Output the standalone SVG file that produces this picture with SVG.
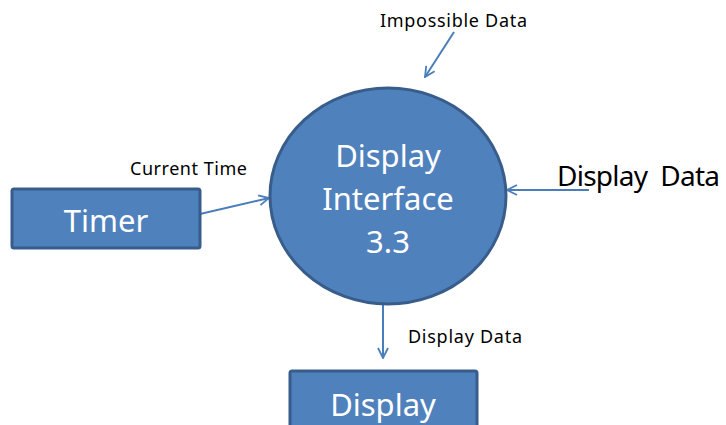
<svg xmlns="http://www.w3.org/2000/svg" width="726" height="425" viewBox="0 0 726 425">
<style>
.shape{fill:#4F81BD;stroke:#385D8A;stroke-width:3}
.wt{fill:#FFFFFF;font-family:"Noto Sans","Noto Sans CJK KR",sans-serif;font-size:31px;text-anchor:middle}
.lbl{fill:#000000;font-family:"Noto Sans","Noto Sans CJK KR",sans-serif;font-size:18px}
.conn{stroke:#4A7EBB;stroke-width:2;fill:none;marker-end:url(#arr)}
</style>
<defs>
<marker id="arr" viewBox="0 0 12 12" refX="11" refY="6" markerWidth="12" markerHeight="12" markerUnits="userSpaceOnUse" orient="auto">
<path d="M1,1 L11,6 L1,11" fill="none" stroke="#4A7EBB" stroke-width="1.8"/>
</marker>
</defs>
<g id="connectors">
<line class="conn" x1="200" y1="214" x2="269" y2="198"/>
<line class="conn" x1="454" y1="32" x2="425" y2="77"/>
<line class="conn" x1="589" y1="190" x2="507" y2="190"/>
<line class="conn" x1="383" y1="304" x2="383" y2="358"/>
</g>
<g id="timer">
<rect class="shape" x="12" y="189" width="188" height="59" rx="2"/>
<text class="wt" x="106" y="232">Timer</text>
</g>
<g id="display-interface">
<ellipse class="shape" cx="388" cy="196" rx="118" ry="108"/>
<text class="wt" x="388" y="167">Display</text>
<text class="wt" x="388" y="210">Interface</text>
<text class="wt" x="388" y="253">3.3</text>
</g>
<g id="display">
<rect class="shape" x="290" y="371" width="187" height="70" rx="2"/>
<text class="wt" x="383" y="416">Display</text>
</g>
<g id="labels">
<text class="lbl" x="380" y="27" textLength="147" lengthAdjust="spacing">Impossible Data</text>
<text class="lbl" x="130" y="175" textLength="117" lengthAdjust="spacing">Current Time</text>
<text class="lbl" x="557" y="186" style="font-size:28px;white-space:pre" textLength="163" lengthAdjust="spacing">Display  Data</text>
<text class="lbl" x="408" y="343" textLength="114" lengthAdjust="spacing">Display Data</text>
</g>
</svg>
